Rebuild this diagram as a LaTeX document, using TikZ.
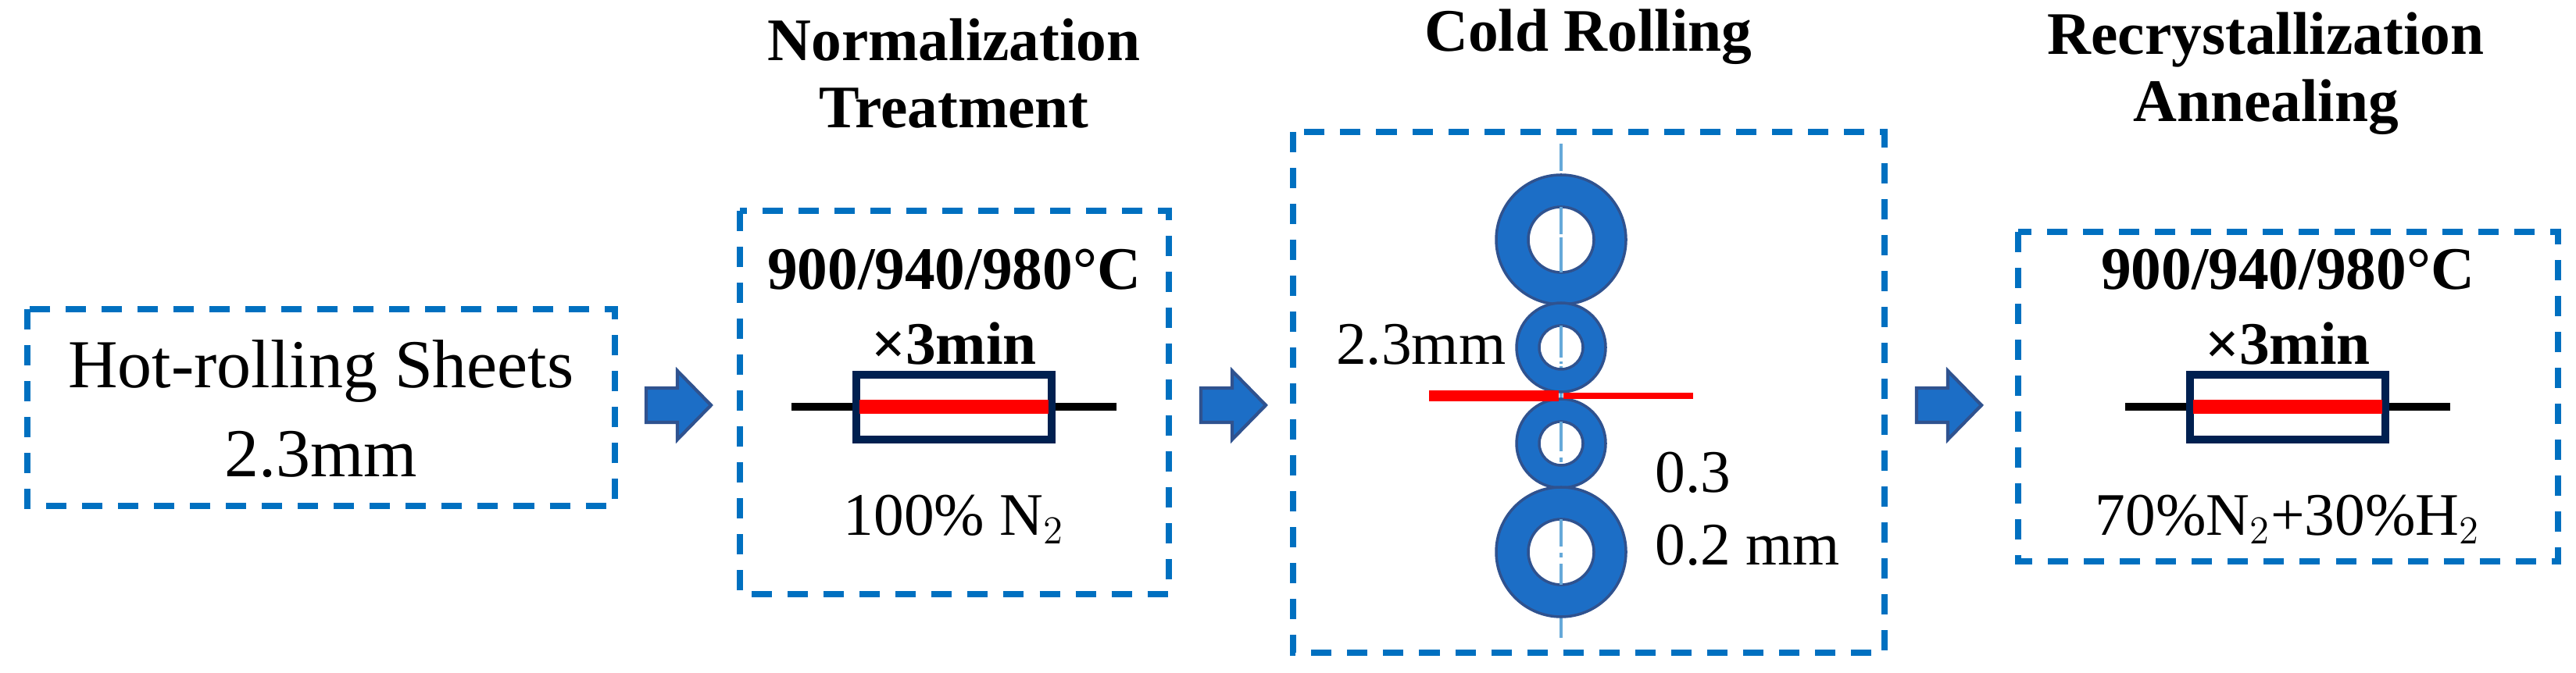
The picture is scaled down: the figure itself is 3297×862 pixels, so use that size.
\documentclass[tikz,border=0pt]{standalone}
\usepackage{fontspec}
\setmainfont{Liberation Serif}
\begin{document}
\definecolor{dblue}{HTML}{0070C0}
\definecolor{afill}{HTML}{1C6EC6}
\definecolor{aline}{HTML}{2F528F}
\definecolor{navy}{HTML}{002050}
\begin{tikzpicture}[x=0.01cm,y=-0.01cm,
  box/.style={draw=dblue,line width=2.4pt,dash pattern=on 0.26cm off 0.2cm},
  txt/.style={font=\fontsize{22}{26}\selectfont,inner sep=0},
  btxt/.style={font=\fontsize{22}{26}\selectfont\bfseries,inner sep=0,align=center},
  barrow/.style={fill=afill,draw=aline,line width=1.2pt},
  ring/.style={fill=afill,draw=aline,line width=1pt,even odd rule}]
\useasboundingbox (0,0) rectangle (3297,862);
% boxes
\draw[box] (35,396) rectangle (787,648);
\draw[box] (947,270) rectangle (1496,761);
\draw[box] (1655,169) rectangle (2412,836);
\draw[box] (2583,297) rectangle (3274,719);
% titles
\node[btxt] (t2) at (1221,94) {Normalization\\[-0.05cm]Treatment};
\node[btxt] (t3) at (2033,47) {Cold Rolling};
\node[btxt] (t4) at (2900,94) {Recrystallization\\[-0.05cm]Annealing};
% box1
\node[txt,font=\fontsize{25}{30}\selectfont] (h1) at (411,475) {Hot-rolling Sheets};
\node[txt,font=\fontsize{25}{30}\selectfont] (h2) at (411,582) {2.3mm};
% arrows
\foreach \x/\n in {827/a1,1537/a2,2453/a3}{
  \filldraw[barrow] (\x,497) -- (\x+40,497) -- (\x+40,475) -- (\x+83,519) -- (\x+40,563) -- (\x+40,541) -- (\x,541) -- cycle;
}
% box2 and box4 furnace
\foreach \cx/\lbl in {1221/{100\% N$_2$},2928/{70\%N$_2$+30\%H$_2$}}{
  \node[btxt] at (\cx,345) {900/940/980°C};
  \node[btxt] at (\cx,440) {×3min};
  \draw[line width=2.6pt] (\cx-208,521) -- (\cx+208,521);
  \draw[navy,line width=2.6pt,fill=white] (\cx-125,480) rectangle (\cx+125,563);
  \draw[red,line width=5pt] (\cx-121,521) -- (\cx+121,521);
  \node[txt] at (\cx,665) {\lbl};
}
% rolls
\draw[dblue!60,line width=1pt,dash pattern=on 10pt off 3pt on 1pt off 3pt] (1998,184) -- (1998,818);
\foreach \cy/\ro/\ri in {307/83/42,445/57/28,568/57/28,707/83/42}{
  \path[ring] (1998,\cy) circle (\ro) (1998,\cy) circle (\ri);
  \draw[dblue!60,line width=1pt,dash pattern=on 10pt off 3pt on 1pt off 3pt] (1998,\cy-\ri) -- (1998,\cy+\ri);
}
\draw[red,line width=4.2pt] (1829,507) -- (1995,507);
\draw[red,line width=2pt] (2001,507) -- (2167,507);
\node[txt,anchor=east] at (1928,441) {2.3mm};
\node[txt,anchor=west] at (2118,605) {0.3};
\node[txt,anchor=west] at (2118,698) {0.2 mm};
\end{tikzpicture}
\end{document}
